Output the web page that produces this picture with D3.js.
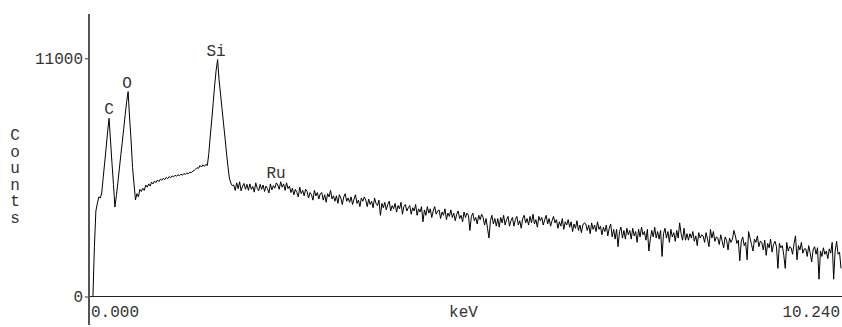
<!DOCTYPE html>
<html><head><meta charset="utf-8">
<script src="https://cdn.jsdelivr.net/npm/d3@7"></script>
<style>
body{margin:0;background:#fff}
svg{display:block}
text{font-family:"Liberation Mono",monospace;font-size:16px;fill:#333}
</style></head>
<body><svg id="chart" width="842" height="327"></svg>
<script>
// EDS spectrum: counts per 0.02 keV channel, 0 to 10.24 keV
const channelWidth = 0.02;
const counts = [
0,0,0,2300,3950,4300,4600,4550,4780,5490,
6170,6870,7600,8230,7180,6140,5170,4130,4660,5250,
5890,6530,7120,7760,8400,9000,9460,8240,7230,5960,
5200,4460,4750,4600,4950,4850,5000,4900,5150,5050,
5200,5100,5280,5200,5330,5260,5380,5310,5420,5370,
5460,5400,5500,5440,5540,5480,5570,5520,5600,5560,
5620,5580,5650,5600,5680,5640,5700,5670,5740,5720,
5780,5820,5880,5950,5920,6050,5980,6080,6010,6100,
6050,6600,7410,8150,8950,9770,10450,10940,10000,9350,
8680,8010,7370,6670,6030,5470,5240,5120,
5150,4900,5250,4980,5300,4880,5100,5220,4950,5180,
4900,5200,4950,5080,4820,5250,5000,4880,5180,4950,
5150,4850,5100,4980,4780,5200,4920,5120,5000,5250,
5150,4950,5300,5050,5200,4900,5250,4980,5100,4800,
5000,4700,4950,4800,4600,5050,4750,4900,4650,4950,
4850,4550,4800,4700,4450,4900,4650,4800,4500,4750,
4800,4450,4700,4350,4750,4600,4900,4500,4650,4400,
4650,4300,4700,4550,4250,4600,4750,4400,4550,4350,
4600,4250,4500,4700,4300,4450,4150,4550,4400,4600,
4450,4150,4500,4250,4400,4100,4550,4300,4200,4450,
3750,4300,4100,4350,4000,4250,4400,3950,4200,4050,
4300,3900,4200,4050,4350,3800,4150,4250,3950,4100,
4200,3800,4100,3950,4250,3750,4050,3900,4150,3450,
4000,3750,4150,3850,4050,3650,3950,4150,3800,3950,
4000,3600,3900,3750,4050,3550,3850,3700,4000,3650,
3850,3500,3800,3950,3600,3750,3450,3900,3650,3850,
3750,3050,3700,3850,3500,3650,3350,3750,3550,3800,
3650,3300,3600,3150,2700,3500,3750,3350,3600,3250,
3600,3200,3650,3400,3750,3300,3550,3700,3250,3500,
3650,3250,3550,3700,3300,3500,3150,3600,3750,3400,
3600,3300,3700,3400,3800,3350,3550,3200,3700,3500,
3650,3300,3550,3750,3350,3600,3250,3500,3700,3400,
3550,3150,3450,3250,3600,3100,3450,3300,3550,3200,
3450,3000,3350,3150,3500,3050,3300,2950,3300,3400,
3350,3050,3300,2900,3400,3100,3300,3000,3450,3100,
3250,2850,3200,3000,3300,2800,3150,3350,2750,3100,
2650,3100,2300,3000,3200,2700,3050,2650,3150,2850,
3050,2650,3150,2800,3000,2500,3100,2750,3200,2850,
3000,2600,3100,2100,2650,3050,2750,3200,2700,3000,
2650,3050,1850,2900,3150,2700,3000,2500,3100,2750,
2950,2550,3050,2700,3400,2900,2600,3150,2600,2900,
2600,2900,2700,3000,2550,2800,2350,2950,2700,2850,
2800,2500,2950,2650,2300,3100,2700,3000,2550,2750,
2700,2400,2850,2550,2250,2750,2600,2150,2700,2500,
2650,3050,2800,2450,2600,1650,2550,2750,2350,2500,
1700,3000,2700,2400,2100,2650,2500,2800,2300,2550,
2500,2150,2600,1900,2450,2250,2650,2050,2400,2550,
2300,1300,2450,2250,2350,1900,1300,2500,2100,2300,
2250,1950,2450,2800,1700,2350,2150,2500,2000,2200,
2200,1850,2350,2000,1600,2150,2300,1950,2250,800,
2100,1850,2250,1950,2100,1750,2200,2000,2500,800,
2100,2550,1950,2050,1300
];

const yTickValues = [0, 11000];
const xTickValues = [0, 10.24];
const xTitle = "keV";
const yTitle = "Counts";
const peakLabels = ["C", "O", "Si", "Ru"];
const peakEnergies = [0.259, 0.504, 1.718, 2.536];
const peakCounts = [8243, 9443, 10921, 5287];

const svg = d3.select("#chart");
const x = d3.scaleLinear().domain([0, 10.24]).range([90, 841]);
const y = d3.scaleLinear().domain([0, 13000]).range([296.5, 15]);

// spectrum line
svg.append("path")
  .datum(counts)
  .attr("fill", "none")
  .attr("stroke", "#000")
  .attr("stroke-width", 1)
  .attr("d", d3.line().x((d, i) => x(i * channelWidth)).y(d => y(d)));

// x axis line
svg.append("line").attr("x1", 88).attr("x2", 842)
  .attr("y1", y(0)).attr("y2", y(0))
  .attr("stroke", "#222").attr("stroke-width", 1);

// y axis
const yAxis = svg.append("g").attr("transform", "translate(89,0)")
  .call(d3.axisLeft(y).tickValues(yTickValues).tickSize(4).tickPadding(2).tickFormat(d3.format("d")));
yAxis.select(".domain").remove();
yAxis.selectAll(".tick line").attr("stroke", "#333");
svg.append("line").attr("x1", 89).attr("x2", 89).attr("y1", 14).attr("y2", 325)
  .attr("stroke", "#555").attr("stroke-width", 2);

// x tick labels
svg.selectAll(".xlab").data(xTickValues).join("text")
  .attr("class", "xlab")
  .attr("x", (d, i) => i === 0 ? x(d) + 1 : x(d) - 1)
  .attr("y", 317)
  .attr("text-anchor", (d, i) => i === 0 ? "start" : "end")
  .text(d => d3.format(".3f")(d));

svg.append("text").attr("x", (x(0) + x(10.24)) / 2 - 2).attr("y", 317)
  .attr("text-anchor", "middle").text(xTitle);

// vertical y title
svg.selectAll(".ylab").data(yTitle.split("")).join("text")
  .attr("class", "ylab")
  .attr("x", 15).attr("y", (d, i) => 140 + i * 16.5)
  .attr("text-anchor", "middle").text(d => d);

// peak labels
svg.selectAll(".peak").data(peakLabels).join("text")
  .attr("class", "peak")
  .attr("x", (d, i) => x(peakEnergies[i]))
  .attr("y", (d, i) => y(peakCounts[i]) - 4)
  .attr("text-anchor", "middle").text(d => d);
</script>
</body></html>
